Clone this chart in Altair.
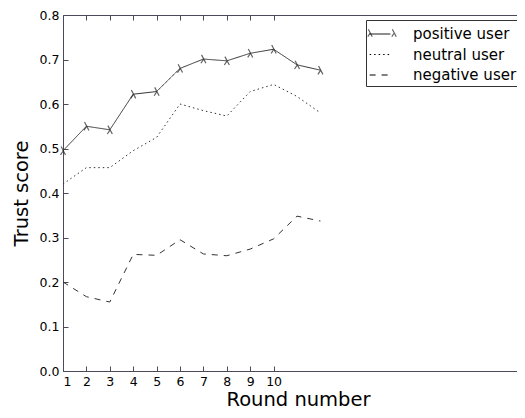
import altair as alt
import pandas as pd

rounds = [1, 2, 3, 4, 5, 6, 7, 8, 9, 10, 11, 12]
positive = [0.495, 0.550, 0.542, 0.622, 0.628, 0.680, 0.701, 0.697, 0.714, 0.723, 0.688, 0.676]
neutral = [0.420, 0.457, 0.457, 0.495, 0.525, 0.600, 0.585, 0.573, 0.628, 0.644, 0.617, 0.580]
negative = [0.200, 0.167, 0.155, 0.262, 0.260, 0.295, 0.263, 0.259, 0.274, 0.297, 0.348, 0.337]
series = ["positive user", "neutral user", "negative user"]
x_ticks = [1, 2, 3, 4, 5, 6, 7, 8, 9, 10]
y_ticks = [0.0, 0.1, 0.2, 0.3, 0.4, 0.5, 0.6, 0.7, 0.8]

rows = []
for name, vals in zip(series, [positive, neutral, negative]):
    for r, v in zip(rounds, vals):
        rows.append({"round": r, "score": v, "series": name})
df = pd.DataFrame(rows)

W, H = 454, 356
TOP = 7
FONT = "DejaVu Sans"
SPINE = "#4a4a5a"
LAMBDA = "M-0.45,-1L0.6,1M0.08,0L-0.6,1"
xscale = alt.Scale(domain=[1, 20.4], nice=False, zero=False)
yscale = alt.Scale(domain=[0, 0.8], nice=False)
inward = {"expr": "-5"}

base = alt.Chart(df)

lines = base.mark_line(color="#333333", strokeWidth=1).encode(
    x=alt.X("round:Q", scale=xscale,
            axis=alt.Axis(values=x_ticks, title="Round number", titleFontSize=19.5,
                          titleFont=FONT, titleFontWeight="normal", titleColor="black",
                          titleX=235, titlePadding=3,
                          labelFont=FONT, labelFontSize=12.5, labelColor="black",
                          ticks=True, tickSize=inward, tickColor=SPINE,
                          domainColor=SPINE, grid=False, labelPadding=9)),
    y=alt.Y("score:Q", scale=yscale,
            axis=alt.Axis(values=y_ticks, format=".1f", title="Trust score", titleFontSize=19.5,
                          titleFont=FONT, titleFontWeight="normal", titleColor="black",
                          labelFont=FONT, labelFontSize=12.5, labelColor="black",
                          ticks=True, tickSize=inward, tickColor=SPINE,
                          domainColor=SPINE, grid=False, labelPadding=9,
                          titlePadding=8)),
    strokeDash=alt.StrokeDash("series:N",
        scale=alt.Scale(domain=series, range=[[1, 0], [1.5, 3], [6, 6]]),
        legend=alt.Legend(title=None, orient="none", legendX=303, legendY=20 - 8 - TOP,
                          strokeColor="#333333", padding=3,
                          labelFont=FONT, labelFontSize=15, labelColor="black",
                          symbolType="stroke", symbolStrokeColor="black",
                          symbolStrokeWidth=1, symbolSize=430, rowPadding=1.5,
                          labelOffset=22, cornerRadius=0)),
    detail="series:N",
)

points = base.transform_filter(alt.datum.series == "positive user").mark_point(
    shape=LAMBDA, filled=False, color="#222222", strokeWidth=1.2, size=70
).encode(
    x=alt.X("round:Q", scale=xscale, axis=None),
    y=alt.Y("score:Q", scale=yscale, axis=None),
)

top_axis = base.mark_point(opacity=0).encode(
    x=alt.X("round:Q", scale=xscale,
            axis=alt.Axis(orient="top", values=x_ticks, labels=False, title=None,
                          ticks=True, tickSize=inward, tickColor=SPINE,
                          domainColor=SPINE, grid=False)),
    y=alt.Y("score:Q", scale=yscale, axis=None),
)

# lambda markers at both ends of the "positive user" legend sample
legend_row = pd.DataFrame({"k": [0]})
legend_marks = [
    alt.Chart(legend_row).mark_point(
        shape=LAMBDA, filled=False, color="#222222", strokeWidth=1.2, size=55
    ).encode(x=alt.value(px), y=alt.value(33 - 8 - TOP))
    for px in (370 - 8 - 55, 394 - 8 - 55)
]

chart = alt.layer(lines, points, top_axis, *legend_marks).resolve_axis(
    x="independent", y="independent"
).properties(
    width=W, height=H, autosize=alt.AutoSizeParams(type="none"),
    padding={"left": 55, "top": TOP, "right": 0, "bottom": 402 - TOP - H},
).configure_view(stroke=None)

chart.save("out.html", embed_options={"renderer": "svg", "actions": False})
